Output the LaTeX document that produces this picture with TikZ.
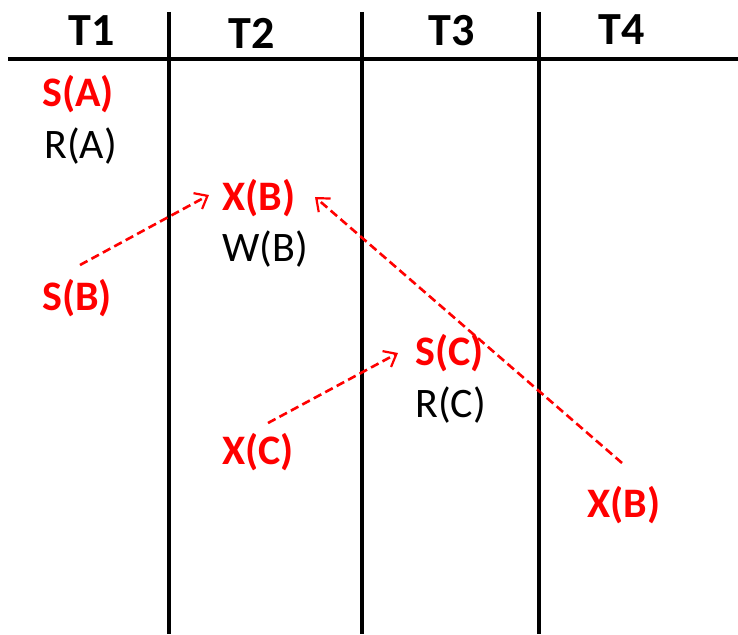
\documentclass[tikz,border=0pt]{standalone}
\usepackage{fontspec}
\setmainfont{Carlito}
\usetikzlibrary{arrows.meta}
\definecolor{lockred}{RGB}{255,0,0}
\begin{document}
\begin{tikzpicture}[x=1pt,y=-1pt,
  head/.style={font=\fontsize{46}{52}\selectfont\bfseries, inner sep=0pt},
  op/.style={font=\fontsize{42}{50}\selectfont, inner sep=0pt, anchor=west},
  lock/.style={op, font=\fontsize{42}{50}\selectfont\bfseries, text=lockred},
  rule/.style={line width=3.5pt, black},
  dep/.style={draw=lockred, line width=2.6pt, dash pattern=on 8.5pt off 4.5pt,
    -{Straight Barb[length=11pt,width=18pt,line width=2.2pt]}}]
\useasboundingbox (0,0) rectangle (738,634);

% table rules
\draw[rule] (8,59) -- (738,59);
\draw[rule] (169,12) -- (169,634);
\draw[rule] (362,12) -- (362,634);
\draw[rule] (539,12) -- (539,634);

% column headers
\node[head] (t1) at (92,31) {T1};
\node[head] (t2) at (252,33) {T2};
\node[head] (t3) at (452,31) {T3};
\node[head] (t4) at (622,30) {T4};

% schedule operations
\node[lock] (sA)  at (42,94)   {S(A)};
\node[op]   (rA)  at (44,146)  {R(A)};
\node[lock] (xB)  at (222,198) {X(B)};
\node[op]   (wB)  at (222,249) {W(B)};
\node[lock] (sB)  at (42,298)  {S(B)};
\node[lock] (sC)  at (415,353) {S(C)};
\node[op]   (rC)  at (415,405) {R(C)};
\node[lock] (xC)  at (222,452) {X(C)};
\node[lock] (xB4) at (587,505) {X(B)};

% waits-for dependencies
\draw[dep] ([shift={(38pt,33pt)}]sB.west) -- ([shift={(-13pt,3pt)}]xB.west);
\draw[dep] ([shift={(35pt,42pt)}]xB4.west) -- ([shift={(93pt,1pt)}]xB.west);
\draw[dep] ([shift={(46pt,29pt)}]xC.west) -- ([shift={(-17pt,0pt)}]sC.west);
\end{tikzpicture}
\end{document}
